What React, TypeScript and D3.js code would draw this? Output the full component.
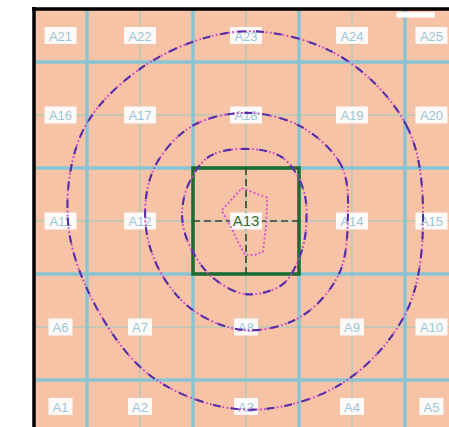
import React from "react";
import * as d3 from "d3";

const W = 449;
const H = 427;

// Cell names, top row first
const CELL_LABELS: string[][] = [
  ["A21", "A22", "A23", "A24", "A25"],
  ["A16", "A17", "A18", "A19", "A20"],
  ["A11", "A12", "A13", "A14", "A15"],
  ["A6", "A7", "A8", "A9", "A10"],
  ["A1", "A2", "A3", "A4", "A5"],
];
// label anchor positions (grid units)
const LABEL_COLS = [1.25, 2, 3, 4, 4.75];
const LABEL_ROWS = [4.75, 4, 3, 2, 1.25];

const MAJOR_LINES = [1.5, 2.5, 3.5, 4.5];
const MINOR_LINES = [2, 3, 4];
const EXTENT = [1, 5];

const CENTER = [3, 3];
const HIGHLIGHT = [2.5, 3.5];

// contour radii (grid units) sampled every 30 degrees, starting east, counter-clockwise
const ANGLES = [0, 30, 60, 90, 120, 150, 180, 210, 240, 270, 300, 330];
const OUTER_R = [1.67, 1.76, 1.79, 1.79, 1.75, 1.76, 1.68, 1.63, 1.72, 1.78, 1.78, 1.74];
const MIDDLE_R = [0.96, 1.04, 1.03, 1.02, 1.03, 1.0, 0.95, 0.94, 0.98, 1.03, 1.04, 1.01];
const INNER_R = [0.57, 0.62, 0.69, 0.68, 0.7, 0.64, 0.6, 0.58, 0.62, 0.69, 0.69, 0.6];

// innermost irregular contour
const CORE_X = [2.96, 3.2, 3.19, 3.16, 3.08, 2.99, 2.92, 2.87, 2.77];
const CORE_Y = [3.31, 3.22, 2.96, 2.71, 2.68, 2.68, 2.81, 2.92, 3.1];

// small white patch at top right (cut-off element)
const PATCH_X = [4.42, 4.78];
const PATCH_Y = [4.97, 4.92];

export default function App() {
  const x = d3.scaleLinear().domain(EXTENT).range([34, 458]);
  const y = d3.scaleLinear().domain(EXTENT).range([433, 9]);

  const polar = (radii: number[]) =>
    radii.map((r, i) => {
      const a = (ANGLES[i] * Math.PI) / 180;
      return [CENTER[0] + r * Math.cos(a), CENTER[1] + r * Math.sin(a)] as [number, number];
    });

  const smooth = d3
    .line<[number, number]>()
    .x((d) => x(d[0]))
    .y((d) => y(d[1]))
    .curve(d3.curveCatmullRomClosed.alpha(0.5));
  const poly = d3
    .line<[number, number]>()
    .x((d) => x(d[0]))
    .y((d) => y(d[1]))
    .curve(d3.curveLinearClosed);

  const contours = [OUTER_R, MIDDLE_R, INNER_R].map((r) => smooth(polar(r)) as string);
  const core = poly(CORE_X.map((v, i) => [v, CORE_Y[i]] as [number, number])) as string;

  const x0 = x(EXTENT[0]);
  const x1 = x(EXTENT[1]);
  const y0 = y(EXTENT[1]);
  const y1 = y(EXTENT[0]);

  return (
    <svg
      width={W}
      height={H}
      style={{ position: "absolute", left: 0, top: 0, display: "block", background: "#fff" }}
      fontFamily="Liberation Sans, Arial, sans-serif"
    >
      <defs>
        <clipPath id="plot">
          <rect x={x0} y={y0} width={x1 - x0} height={y1 - y0} />
        </clipPath>
      </defs>
      <rect x={x0} y={y0} width={x1 - x0} height={y1 - y0} fill="#f6c3a7" />
      <g clipPath="url(#plot)">
        {MINOR_LINES.map((v) => (
          <g key={"mn" + v}>
            <line x1={x(v)} x2={x(v)} y1={y0} y2={y1} stroke="#b9c8b6" strokeWidth={1.6} />
            <line x1={x0} x2={x1} y1={y(v)} y2={y(v)} stroke="#b9c8b6" strokeWidth={1.6} />
          </g>
        ))}
        {MAJOR_LINES.map((v) => (
          <g key={"mj" + v}>
            <line x1={x(v)} x2={x(v)} y1={y0} y2={y1} stroke="#89c4d2" strokeWidth={3.5} />
            <line x1={x0} x2={x1} y1={y(v)} y2={y(v)} stroke="#89c4d2" strokeWidth={3.5} />
          </g>
        ))}
        {/* highlight square */}
        <rect
          x={x(HIGHLIGHT[0])}
          y={y(HIGHLIGHT[1])}
          width={x(HIGHLIGHT[1]) - x(HIGHLIGHT[0])}
          height={y(HIGHLIGHT[0]) - y(HIGHLIGHT[1])}
          fill="none"
          stroke="#1d6b2e"
          strokeWidth={3.5}
        />
        <line
          x1={x(CENTER[0])}
          x2={x(CENTER[0])}
          y1={y(HIGHLIGHT[1])}
          y2={y(HIGHLIGHT[0])}
          stroke="#2f4a2c"
          strokeWidth={1.6}
          strokeDasharray="7 4"
        />
        <line
          x1={x(HIGHLIGHT[0])}
          x2={x(HIGHLIGHT[1])}
          y1={y(CENTER[1])}
          y2={y(CENTER[1])}
          stroke="#2f4a2c"
          strokeWidth={1.6}
          strokeDasharray="7 4"
        />
        {/* labels */}
        {CELL_LABELS.map((row, ri) =>
          row.map((name, ci) => {
            const cx = x(LABEL_COLS[ci]);
            const cy = y(LABEL_ROWS[ri]);
            const w = name.length * 8 + 8;
            const isCenter = ri === 2 && ci === 2;
            return (
              <g key={name}>
                <rect x={cx - w / 2} y={cy - 8.5} width={w} height={17} fill="#ffffff" opacity={0.92} />
                <text
                  x={cx}
                  y={cy + 5}
                  textAnchor="middle"
                  fontSize={isCenter ? 15 : 13}
                  fill={isCenter ? "#2d6b3a" : "#97c7da"}
                >
                  {name}
                </text>
              </g>
            );
          })
        )}
        {/* contours */}
        {contours.map((d, i) => (
          <g key={"c" + i}>
            <path d={d} fill="none" stroke="#cc44c6" strokeWidth={1.9} strokeDasharray="1.8 2.4" />
            <path d={d} fill="none" stroke="#5330a8" strokeWidth={2.1} strokeDasharray="8 10" />
          </g>
        ))}
        <path d={core} fill="none" stroke="#d650d2" strokeWidth={1.8} strokeDasharray="2 2.2" />
        <rect
          x={x(PATCH_X[0])}
          y={y(PATCH_Y[0])}
          width={x(PATCH_X[1]) - x(PATCH_X[0])}
          height={y(PATCH_Y[1]) - y(PATCH_Y[0])}
          fill="#ffffff"
        />
      </g>
      {/* outer frame (left and top visible) */}
      <line x1={x0} x2={x0} y1={y0 - 2} y2={H} stroke="#000" strokeWidth={3.5} />
      <line x1={x0 - 2} x2={W} y1={y0} y2={y0} stroke="#000" strokeWidth={3.5} />
    </svg>
  );
}
